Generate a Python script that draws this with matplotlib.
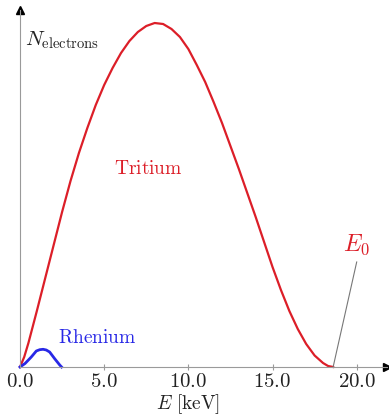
import numpy as np
import matplotlib.pyplot as plt

plt.rcParams['mathtext.fontset'] = 'cm'

# tritium beta spectrum (arbitrary units)
e_tritium = [0, 0.25, 0.5, 1.0, 1.5, 2.0, 2.5, 3.0, 3.5, 4.0, 4.5, 5.0, 5.5, 6.0,
             6.5, 7.0, 7.5, 8.0, 8.5, 9.0, 9.5, 10.0, 10.5, 11.0, 11.5, 12.0,
             12.5, 13.0, 13.5, 14.0, 14.5, 15.0, 15.5, 16.0, 16.5, 17.0, 17.5,
             18.0, 18.3, 18.6]
n_tritium = [0, 10, 24, 56, 89, 122, 155, 186, 214, 239, 262, 282, 299, 314,
             326, 335, 341, 344, 343, 338, 330, 318, 302, 285, 265, 244,
             221, 198, 174, 150, 125, 100, 77, 56, 38, 23, 11.5,
             4, 1, 0]

# rhenium spectrum
e_rhenium = [0, 0.3, 0.67, 0.97, 1.17, 1.37, 1.56, 1.76, 2.06, 2.36, 2.47]
n_rhenium = [0, 3.5, 10, 16, 17.3, 17.7, 17, 15, 8.3, 2, 0]

e_zero = 18.6
xticks = [5, 10, 15, 20]
xticklabels = ['$5.0$', '$10.0$', '$15.0$', '$20.0$']

red = '#dc1e28'
blue = '#2828e6'
gray = '#9a9a9a'

fig = plt.figure(figsize=(3.89, 4.15), dpi=100)
ax = fig.add_axes([20 / 389, 48 / 415, 367 / 389, 357 / 415])
ax.set_xlim(0, 21.8)
ax.set_ylim(0, 357)

ax.plot(e_tritium, n_tritium, color=red, lw=1.6, clip_on=False)
ax.plot(e_rhenium, n_rhenium, color=blue, lw=2.0, clip_on=False)

# pointer to the endpoint
ax.plot([e_zero, 20.0], [0, 105], color='#777777', lw=0.8)
ax.text(20.0, 122, '$E_0$', color=red, fontsize=17, ha='center', va='center')

ax.text(7.6, 199, r'$\mathrm{Tritium}$', color=red, fontsize=14, ha='center', va='center')
ax.text(4.6, 30, r'$\mathrm{Rhenium}$', color=blue, fontsize=14, ha='center', va='center')
ax.text(0.3, 322, r'$N_{\mathrm{electrons}}$', fontsize=15, color='#222222',
        ha='left', va='baseline')
ax.text(10, -37, r'$E\ [\mathrm{keV}]$', fontsize=14, color='#222222',
        ha='center', va='center', clip_on=False)
ax.text(0, -14, '$0.0$', fontsize=15, color='#222222', ha='center', va='center')

# arrow-style axes
for s in ['top', 'right']:
    ax.spines[s].set_visible(False)
for s in ['left', 'bottom']:
    ax.spines[s].set_color(gray)
    ax.spines[s].set_linewidth(0.8)
ax.plot(1, 0, '>', color='k', ms=6, transform=ax.transAxes, clip_on=False)
ax.plot(0, 1, '^', color='k', ms=6, transform=ax.transAxes, clip_on=False)

ax.set_yticks([])
ax.set_xticks(xticks)
ax.set_xticklabels(xticklabels, fontsize=15, color='#222222')
ax.tick_params(axis='x', direction='inout', length=4, color=gray, pad=1)

fig.savefig('out.png', dpi=100)
